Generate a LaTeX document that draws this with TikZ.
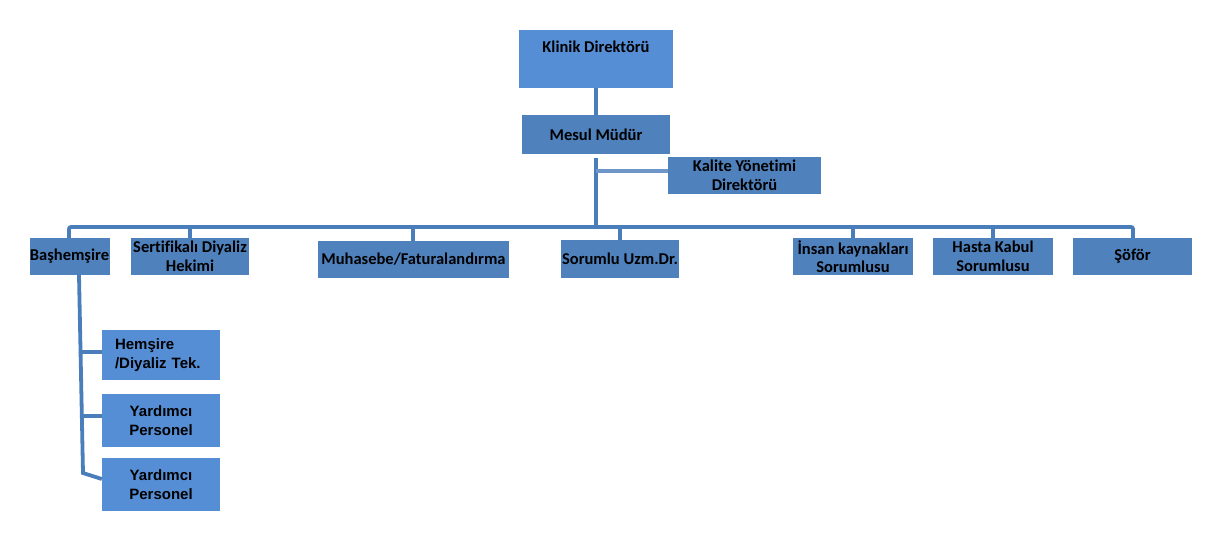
\documentclass[tikz,border=0pt]{standalone}
\usepackage{fontspec}
\setmainfont{Carlito}[Ligatures={NoCommon}]
\newfontfamily\arialf{Liberation Sans}
\definecolor{boxdark}{HTML}{4F81BD}
\definecolor{boxlight}{HTML}{558ED5}
\definecolor{linec}{HTML}{4A7EBB}
\definecolor{linek}{HTML}{6F96C8}
\begin{document}
\begin{tikzpicture}[x=1pt,y=-1pt,
  box/.style={fill=boxdark, inner sep=0pt, align=center, font=\bfseries\fontsize{16.5}{18.5}\selectfont},
  lbox/.style={box, fill=boxlight},
  abox/.style={lbox, font=\arialf\bfseries\fontsize{15}{19}\selectfont},
  conn/.style={draw=linec, line width=3.8pt},
  busl/.style={draw=linec, line width=3.8pt, rounded corners=2pt}]
\useasboundingbox (0,0) rectangle (1225,534);
% top
\node[lbox, minimum width=154pt, minimum height=58pt] (kd) at (596,59) {};
\node[font=\bfseries\fontsize{16.5}{18.5}\selectfont, inner sep=0pt] (kdt) at (596,47) {Klinik Direktörü};
\node[box, minimum width=148pt, minimum height=39pt] (mm) at (596,134.5) {Mesul Müdür};
\node[box, minimum width=153pt, minimum height=37pt] (kal) at (744.5,175.5) {Kalite Yönetimi\\Direktörü};
% level 2
\node[box, minimum width=80pt, minimum height=37pt] (bh) at (69.5,256.5) {Başhemşire};
\node[box, minimum width=118pt, minimum height=37pt] (sd) at (190,256.5) {Sertifikalı Diyaliz\\Hekimi};
\node[box, minimum width=191pt, minimum height=37pt] (mf) at (413.5,259.5) {Muhasebe/Faturalandırma};
\node[box, minimum width=118pt, minimum height=38pt] (su) at (620,259) {Sorumlu Uzm.Dr.};
\node[box, minimum width=120pt, minimum height=37pt] (ik) at (853,256.5) {İnsan kaynakları\\Sorumlusu};
\node[box, minimum width=120pt, minimum height=37pt] (hk) at (993,256.5) {Hasta Kabul\\Sorumlusu};
\node[box, minimum width=119pt, minimum height=37pt] (sf) at (1132.5,256.5) {Şöför};
% level 3
\node[abox, minimum width=118pt, minimum height=50pt, align=left, text width=92pt] (hm) at (161,355) {Hemşire\\/Diyaliz Tek.};
\node[abox, minimum width=118pt, minimum height=53pt] (y1) at (161,420.5) {Yardımcı\\Personel};
\node[abox, minimum width=118pt, minimum height=53pt] (y2) at (161,484.5) {Yardımcı\\Personel};
% connectors
\coordinate (mtop) at (596,158);
\coordinate (bus) at (596,227);
\draw[conn] (kd.south) -- (mm.north);
\draw[conn] (mtop) -- (bus);
\draw[draw=linek, line width=3.8pt] (596,171) -- (kal.west |- 0,171);
\draw[busl] (bh.north -| 69,0) -- (69,227) -- (1133,227) -- (sf.north -| 1133,0);
\foreach \n/\x in {sd/190, mf/413, su/620, ik/853, hk/993}
  \draw[conn] (\x,227) -- (\n.north -| \x,0);
% Bashemsire subtree
\coordinate (vb) at (83,473);
\draw[conn] (bh.south -| 79,0) -- (vb) -- (y2.west |- 0,479);
\draw[conn] (80,352) -- (hm.west |- 0,352);
\draw[conn] (81,416) -- (y1.west |- 0,416);
\end{tikzpicture}
\end{document}
